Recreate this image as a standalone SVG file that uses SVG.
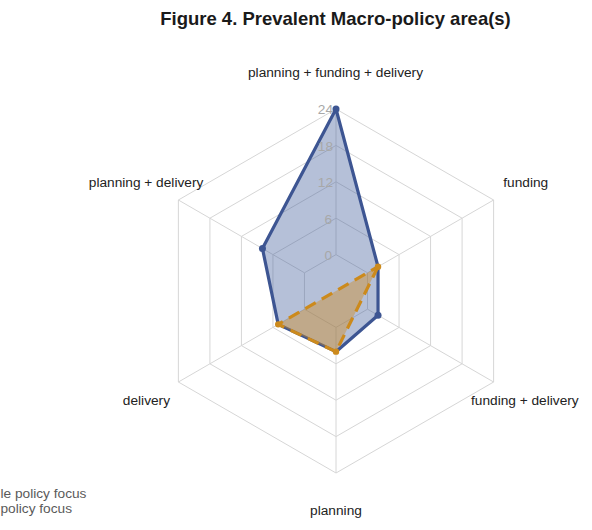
<svg xmlns="http://www.w3.org/2000/svg" width="592" height="530" viewBox="0 0 592 530">
<style>
text{font-family:"Liberation Sans",Arial,Helvetica,sans-serif}
.title{font-size:18.5px;font-weight:bold;fill:#1a1a1a;text-anchor:middle}
.lab{font-size:13.7px;fill:#222}
.tick{font-size:13.7px;fill:#a8a8a8;text-anchor:end;dominant-baseline:central}
.leg{font-size:13.7px;fill:#5a5a5a}
.grid{fill:none;stroke:#d6d6d6;stroke-width:1}
.blue{fill:#3d5a99;fill-opacity:0.38;stroke:#3d5592;stroke-width:3.2;stroke-linejoin:round}
.orange{fill:#cf8a1f;fill-opacity:0.42;stroke:#cc8a1c;stroke-width:3.2;stroke-dasharray:12 7;stroke-linejoin:round}
.bdot{fill:#3d5592}
.odot{fill:#cc8a1c}
</style>
<rect width="592" height="530" fill="#ffffff"/>
<text class="title" x="335.5" y="25">Figure 4. Prevalent Macro-policy area(s)</text>
<g id="grid">
<polygon class="grid" points="336,254.6 367.52,272.8 367.52,309.2 336,327.4 304.48,309.2 304.48,272.8"/>
<polygon class="grid" points="336,218.2 399.05,254.6 399.05,327.4 336,363.8 272.95,327.4 272.95,254.6"/>
<polygon class="grid" points="336,181.8 430.57,236.4 430.57,345.6 336,400.2 241.43,345.6 241.43,236.4"/>
<polygon class="grid" points="336,145.4 462.09,218.2 462.09,363.8 336,436.6 209.91,363.8 209.91,218.2"/>
<polygon class="grid" points="336,109 493.62,200 493.62,382 336,473 178.38,382 178.38,200"/>
<g id="connectors">
<line class="grid" x1="336" y1="254.6" x2="336" y2="109"/>
<line class="grid" x1="367.52" y1="272.8" x2="493.62" y2="200"/>
<line class="grid" x1="367.52" y1="309.2" x2="493.62" y2="382"/>
<line class="grid" x1="336" y1="327.4" x2="336" y2="473"/>
<line class="grid" x1="304.48" y1="309.2" x2="178.38" y2="382"/>
<line class="grid" x1="304.48" y1="272.8" x2="178.38" y2="200"/>
</g>
</g>
<g id="series-blue">
<polygon class="blue" points="336,109 378.03,266.73 378.03,315.27 336,351.67 278.21,324.37 262.45,248.53"/>
</g>
<g id="series-orange">
<polygon class="orange" points="378.03,266.73 336,351.67 278.21,324.37"/>
</g>
<g id="ticks">
<text class="tick" x="333" y="109.5">24</text>
<text class="tick" x="333" y="146">18</text>
<text class="tick" x="333" y="182.5">12</text>
<text class="tick" x="332" y="219">6</text>
<text class="tick" x="332" y="255.5">0</text>
</g>
<g id="markers">
<circle class="bdot" cx="336" cy="109" r="3.5"/>
<circle class="bdot" cx="378.03" cy="315.27" r="3.5"/>
<circle class="bdot" cx="262.45" cy="248.53" r="3.5"/>
<circle class="odot" cx="378.03" cy="266.73" r="3.2"/>
<circle class="odot" cx="336" cy="351.67" r="3.2"/>
<circle class="odot" cx="278.21" cy="324.37" r="3.2"/>
</g>
<g id="axis-planning-funding-delivery"><text class="lab" x="335.5" y="77" text-anchor="middle">planning + funding + delivery</text></g>
<g id="axis-funding"><text class="lab" x="503.3" y="187">funding</text></g>
<g id="axis-funding-delivery"><text class="lab" x="471" y="405">funding + delivery</text></g>
<g id="axis-planning"><text class="lab" x="336" y="515" text-anchor="middle">planning</text></g>
<g id="axis-delivery"><text class="lab" x="170" y="405" text-anchor="end">delivery</text></g>
<g id="axis-planning-delivery"><text class="lab" x="203.3" y="187" text-anchor="end">planning + delivery</text></g>
<g id="legend">
<text class="leg" x="0.5" y="498">le policy focus</text>
<text class="leg" x="0.5" y="513">policy focus</text>
</g>
</svg>
